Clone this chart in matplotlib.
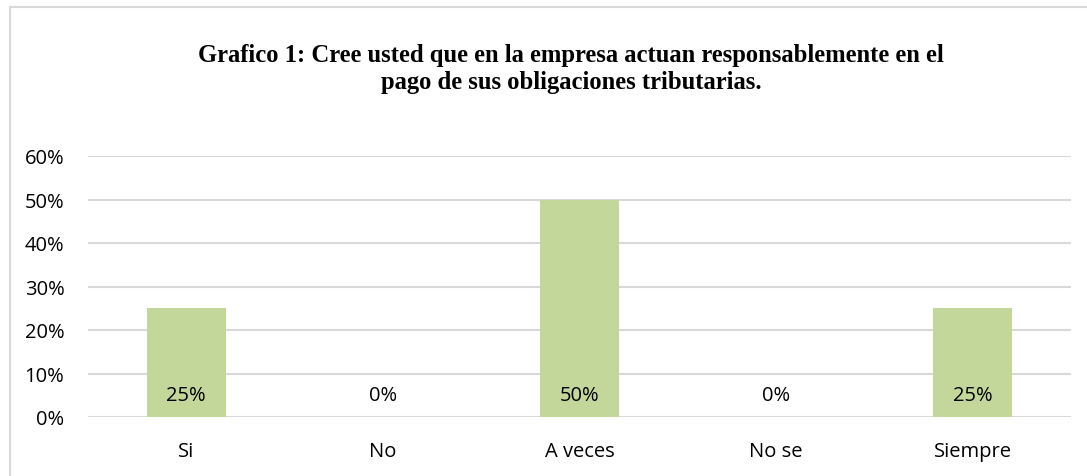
import matplotlib
matplotlib.use("Agg")
import matplotlib.pyplot as plt
from matplotlib.lines import Line2D

categories = ["Si", "No", "A veces", "No se", "Siempre"]
values = [0.25, 0.0, 0.50, 0.0, 0.25]
value_labels = ["25%", "0%", "50%", "0%", "25%"]
yticks = [0.0, 0.1, 0.2, 0.3, 0.4, 0.5, 0.6]
ytick_labels = ["0%", "10%", "20%", "30%", "40%", "50%", "60%"]
title = "Grafico 1: Cree usted que en la empresa actuan responsablemente en el\npago de sus obligaciones tributarias."

W, H = 1087, 477
fig = plt.figure(figsize=(W / 100, H / 100), dpi=100)
ax = fig.add_axes([88 / W, 1 - 418 / H, (1071 - 88) / W, (418 - 157) / H])

sans = ["Open Sans", "DejaVu Sans"]
fs = 14.5
grid_c = "#D9D9D9"
x = list(range(len(categories)))
ax.bar(x, values, width=0.40, color="#C4D79B", zorder=3)
ax.set_xlim(-0.5, len(categories) - 0.5)
ax.set_ylim(0, 0.6)
ax.set_yticks(yticks)
ax.set_yticklabels(ytick_labels, fontsize=fs, family=sans, color="#000000")
ax.set_xticks(x)
ax.set_xticklabels(categories, fontsize=fs, family=sans, color="#000000")
ax.tick_params(axis="both", length=0)
ax.tick_params(axis="y", pad=17)
ax.tick_params(axis="x", pad=17)
for y in yticks:
    ax.axhline(y, color=grid_c, lw=1.5, zorder=1)
for s in ax.spines.values():
    s.set_visible(False)

for xi, v, lab in zip(x, values, value_labels):
    ax.text(xi, 0.05, lab, ha="center", va="center", fontsize=fs, family=sans, zorder=4)

fig.text(571 / W, 1 - 69 / H, title, ha="center", va="center",
         fontsize=17.7, fontweight="bold", family=["Liberation Serif", "DejaVu Serif"],
         linespacing=1.25)

# outer chart border (top and left only visible)
fig.add_artist(Line2D([10 / W, 1], [1 - 8 / H, 1 - 8 / H], transform=fig.transFigure, color=grid_c, lw=1.5))
fig.add_artist(Line2D([10 / W, 10 / W], [0, 1 - 8 / H], transform=fig.transFigure, color=grid_c, lw=1.5))

fig.savefig("out.png", dpi=100)
